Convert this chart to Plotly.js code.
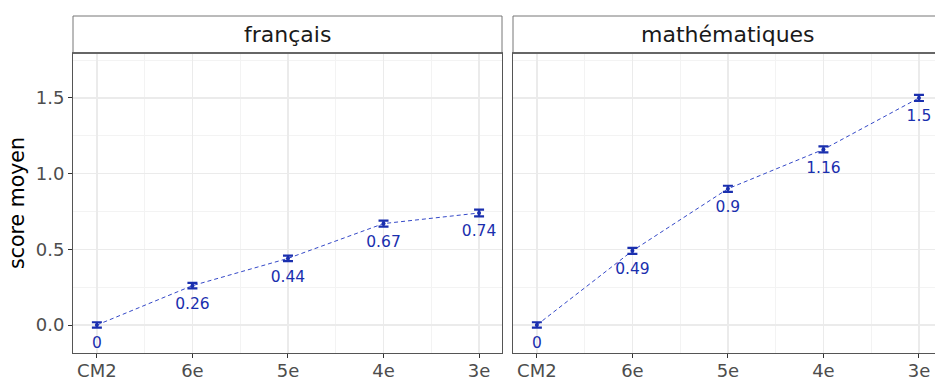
<!DOCTYPE html>
<html><head><meta charset="utf-8">
<script src="https://cdn.plot.ly/plotly-3.0.1.min.js"></script>
<style>html,body{margin:0;padding:0;background:#fff}</style>
</head><body><div id="chart" style="width:935px;height:377px"></div>
<script>
const categories = ['CM2','6e','5e','4e','3e'];
const subjects = ['français','mathématiques'];
const francaisScore = [0, 0.26, 0.44, 0.67, 0.74];
const francaisErr = [0.018, 0.018, 0.018, 0.02, 0.022];
const mathScore = [0, 0.49, 0.9, 1.16, 1.5];
const mathErr = [0.018, 0.02, 0.02, 0.02, 0.02];
const francaisLabels = ['0','0.26','0.44','0.67','0.74'];
const mathLabels = ['0','0.49','0.9','1.16','1.5'];
const yTicks = [0, 0.5, 1.0, 1.5];
const yTickText = ['0.0','0.5','1.0','1.5'];

const blue = '#1a2fae';
const idx = categories.map((c,i)=>i);
const font = 'DejaVu Sans, sans-serif';

function series(y, err, labels, xa, ya){
  return [
    {x: idx, y: y, xaxis: xa, yaxis: ya, type:'scatter', mode:'lines',
     line:{color:'#3549c8', width:1, dash:'4px,3px'}, hoverinfo:'skip', showlegend:false},
    {x: idx, y: y, xaxis: xa, yaxis: ya, type:'scatter', mode:'markers',
     marker:{color:blue, size:4},
     error_y:{type:'data', array: err, visible:true, color: blue, thickness:2.2, width:5},
     showlegend:false},
    {x: idx, y: y, xaxis: xa, yaxis: ya, type:'scatter', mode:'markers+text',
     text: labels, textposition:'bottom center',
     textfont:{family:font, size:15.5, color:blue},
     marker:{size:17, opacity:0}, showlegend:false, hoverinfo:'skip'}
  ];
}

const data = [
  ...series(francaisScore, francaisErr, francaisLabels, 'x', 'y'),
  ...series(mathScore, mathErr, mathLabels, 'x2', 'y2')
];

const plotW = 935 - 73;
const d1 = [0, 429/plotW];
const d2 = [440/plotW, 1];
const yTop = 300/337;

function xaxis(domain, range){
  return {domain: domain, range: range, tickvals: idx, ticktext: categories,
    showgrid:true, gridcolor:'#ebebeb', gridwidth:1.5, zeroline:false,
    minor:{tickvals:[0.5,1.5,2.5,3.5], showgrid:true, gridcolor:'#f3f3f3', gridwidth:1, ticklen:0},
    showline:true, linecolor:'#555', linewidth:1, mirror:true,
    ticks:'outside', ticklen:4, tickcolor:'#333', tickwidth:1, ticklabelstandoff:-3,
    tickfont:{family:font, size:18, color:'#4d4d4d'}, fixedrange:true};
}
function yaxis(anchor, showLabels){
  return {domain:[0, yTop], range:[-0.185, 1.797], anchor: anchor,
    tickvals: yTicks, ticktext: yTickText, showticklabels: showLabels,
    showgrid:true, gridcolor:'#ebebeb', gridwidth:1.5, zeroline:false,
    minor:{tickvals:[-0.25,0.25,0.75,1.25,1.75], showgrid:true, gridcolor:'#f3f3f3', gridwidth:1, ticklen:0},
    showline:true, linecolor:'#555', linewidth:1, mirror:true,
    ticks: showLabels ? 'outside' : '', ticklen:4, tickcolor:'#333', tickwidth:1,
    tickfont:{family:font, size:18, color:'#4d4d4d'}, fixedrange:true};
}

const layout = {
  width:935, height:377,
  margin:{l:73, r:0, t:16, b:24},
  paper_bgcolor:'#fff', plot_bgcolor:'#fff',
  xaxis: xaxis(d1, [-0.25, 4.24]),
  xaxis2: Object.assign(xaxis(d2, [-0.25, 4.168]), {anchor:'y2'}),
  yaxis: Object.assign(yaxis('x', true), {title:{text:'score moyen', font:{family:font, size:20.5, color:'#000'}, standoff:5}}),
  yaxis2: yaxis('x2', false),
  shapes: [
    {type:'rect', xref:'paper', yref:'paper', x0:d1[0], x1:d1[1], y0:yTop, y1:1,
     fillcolor:'#fff', line:{color:'#777', width:1}},
    {type:'rect', xref:'paper', yref:'paper', x0:d2[0], x1:d2[1]+0.01, y0:yTop, y1:1,
     fillcolor:'#fff', line:{color:'#777', width:1}},
    {type:'line', xref:'paper', yref:'paper', x0:d1[0], x1:d1[1], y0:yTop, y1:yTop, line:{color:'#666', width:2}},
    {type:'line', xref:'paper', yref:'paper', x0:d2[0], x1:d2[1], y0:yTop, y1:yTop, line:{color:'#666', width:2}}
  ],
  annotations: [
    {text: subjects[0], xref:'paper', yref:'paper', x:(d1[0]+d1[1])/2, y:(yTop+1)/2,
     showarrow:false, font:{family:font, size:22, color:'#1a1a1a'}, xanchor:'center', yanchor:'middle'},
    {text: subjects[1], xref:'paper', yref:'paper', x:(d2[0]+d2[1])/2 + 0.005, y:(yTop+1)/2,
     showarrow:false, font:{family:font, size:22, color:'#1a1a1a'}, xanchor:'center', yanchor:'middle'}
  ]
};

Plotly.newPlot('chart', data, layout, {displayModeBar:false, staticPlot:true});
</script></body></html>
